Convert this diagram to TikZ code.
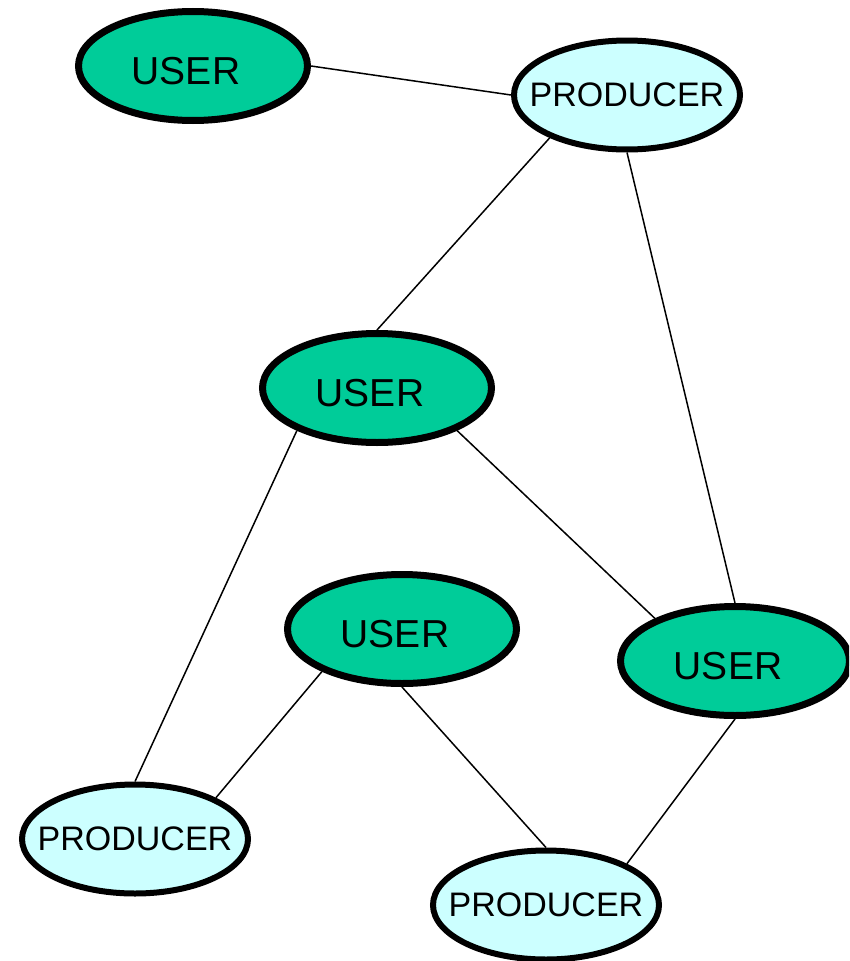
\documentclass[tikz,border=0pt]{standalone}
\usepackage{fontspec}
\setmainfont{Liberation Sans}
\usetikzlibrary{shapes.geometric}
\definecolor{usergreen}{HTML}{00CC99}
\definecolor{prodcyan}{HTML}{CCFFFF}
\begin{document}
\begin{tikzpicture}[x=1pt, y=-1pt,
    user/.style={ellipse, draw, line width=7pt, fill=usergreen,
        minimum width=229pt, minimum height=109pt, inner sep=0pt,
        text height=36pt, text depth=0pt,
        font=\fontsize{39}{40}\selectfont, execute at end node=\kern14pt},
    producer/.style={ellipse, draw, line width=6pt, fill=prodcyan,
        minimum width=226pt, minimum height=109pt, inner ysep=0pt, inner xsep=-30pt,
        font=\fontsize{34}{36}\selectfont},
    link/.style={line width=1.5pt}]
    \useasboundingbox (0,0) rectangle (849,961);
    \clip (0,0) rectangle (849,961);
    % nodes
    \node[user] (u1) at (193,66) {USER};
    \node[producer] (p1) at (627,95) {PRODUCER};
    \node[user] (u2) at (377,388) {USER};
    \node[user] (u3) at (402,629) {USER};
    \node[user] (u4) at (735,661) {USER};
    \node[producer] (p2) at (135,839) {PRODUCER};
    \node[producer] (p3) at (546,905) {PRODUCER};
    % links
    \draw[link] (u1.east) -- (p1.west);
    \draw[link] (p1.209) -- (u2.north);
    \draw[link] (p1.south) -- (u4.north);
    \draw[link] (u2.-28) -- (u4.152);
    \draw[link] (u2.208) -- (p2.north);
    \draw[link] (u3.208) -- (p2.27);
    \draw[link] (u3.south) -- (p3.north);
    \draw[link] (u4.south) -- (p3.27);
\end{tikzpicture}
\end{document}
